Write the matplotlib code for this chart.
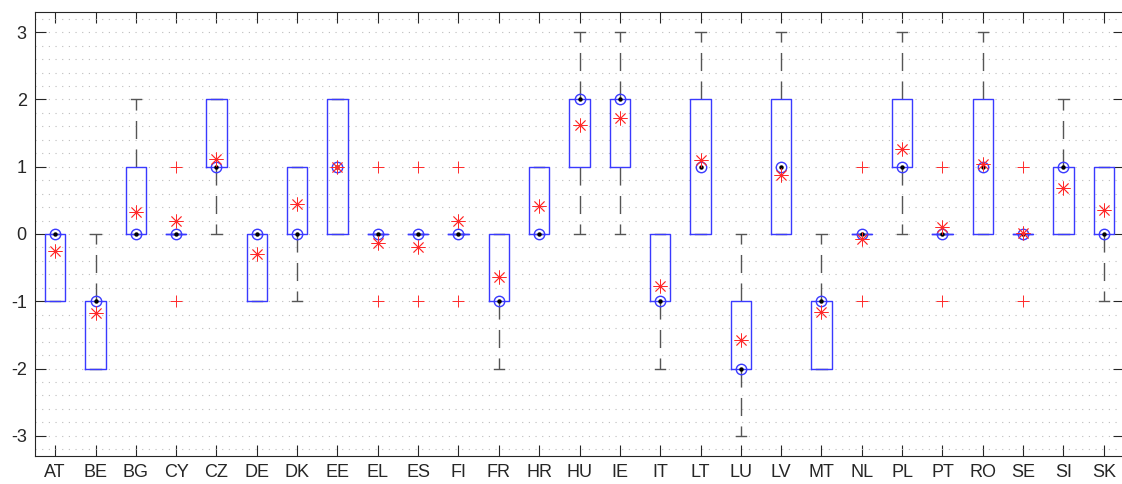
import numpy as np
import matplotlib
matplotlib.use("Agg")
import matplotlib.pyplot as plt

countries = ["AT", "BE", "BG", "CY", "CZ", "DE", "DK", "EE", "EL", "ES", "FI", "FR",
             "HR", "HU", "IE", "IT", "LT", "LU", "LV", "MT", "NL", "PL", "PT", "RO",
             "SE", "SI", "SK"]
q1 =      [-1, -2, 0, 0, 1, -1, 0, 0, 0, 0, 0, -1, 0, 1, 1, -1, 0, -2, 0, -2, 0, 1, 0, 0, 0, 0, 0]
q3 =      [0, -1, 1, 0, 2, 0, 1, 2, 0, 0, 0, 0, 1, 2, 2, 0, 2, -1, 2, -1, 0, 2, 0, 2, 0, 1, 1]
medians = [0, -1, 0, 0, 1, 0, 0, 1, 0, 0, 0, -1, 0, 2, 2, -1, 1, -2, 1, -1, 0, 1, 0, 1, 0, 1, 0]
whislo =  [-1, -2, 0, 0, 0, -1, -1, 0, 0, 0, 0, -2, 0, 0, 0, -2, 0, -3, 0, -2, 0, 0, 0, 0, 0, 0, -1]
whishi =  [0, 0, 2, 0, 2, 0, 1, 2, 0, 0, 0, 0, 1, 3, 3, 0, 3, 0, 3, 0, 0, 3, 0, 3, 0, 2, 1]
means =   [-0.25, -1.17, 0.32, 0.19, 1.11, -0.29, 0.45, 1.0, -0.13, -0.19, 0.19, -0.64,
           0.41, 1.62, 1.73, -0.78, 1.1, -1.58, 0.88, -1.16, -0.07, 1.26, 0.1, 1.04,
           0.01, 0.68, 0.36]
outliers = [[], [], [], [1, -1], [], [], [], [], [1, -1], [1, -1], [1, -1], [],
            [], [], [], [], [], [], [], [], [1, -1], [], [1, -1], [], [1, -1], [], []]

stats = []
for i, c in enumerate(countries):
    stats.append(dict(label=c, q1=q1[i], q3=q3[i], med=medians[i],
                      whislo=whislo[i], whishi=whishi[i], mean=means[i],
                      fliers=outliers[i]))

plt.rcParams['font.family'] = ['Liberation Sans', 'DejaVu Sans']
plt.rcParams['axes.unicode_minus'] = False
fig = plt.figure(figsize=(11.22, 4.84), dpi=100)
ax = fig.add_axes([35 / 1122, 28 / 484, (1124 - 35) / 1122, 444 / 484])

pos = np.arange(1, len(countries) + 1)
ax.bxp(stats, positions=pos, widths=0.5, capwidths=0.26, showmeans=True,
       showfliers=True, patch_artist=False,
       boxprops=dict(color='#3a3aff', linewidth=1.0, zorder=4),
       whiskerprops=dict(color='#555555', linewidth=1.0, linestyle=(0, (13, 7.5)), zorder=3),
       capprops=dict(color='#555555', linewidth=1.0, zorder=3),
       medianprops=dict(linewidth=0),
       meanprops=dict(marker=(8, 2, 0), markersize=10, markeredgecolor='#ff2a2a',
                      markerfacecolor='#ff2a2a', markeredgewidth=0.6, linestyle='none', zorder=6),
       flierprops=dict(marker='+', markersize=9, markeredgecolor='#ff2a2a',
                       markeredgewidth=0.7, linestyle='none', zorder=5))

ax.plot(pos, medians, linestyle='none', marker='o', markersize=7.5, markerfacecolor='none',
        markeredgecolor='#3a3aff', markeredgewidth=1.0, zorder=5)
ax.plot(pos, medians, linestyle='none', marker='o', markersize=3.2, markerfacecolor='black',
        markeredgecolor='black', markeredgewidth=0, zorder=5)

ax.set_xlim(0.5, len(countries) + 0.5)
ax.set_ylim(-3.3, 3.3)
ax.set_yticks([-3, -2, -1, 0, 1, 2, 3])
ax.set_yticks(np.round(np.arange(-3.2, 3.21, 0.2), 1), minor=True)
ax.set_xticks(pos)
ax.set_xticklabels(countries)
ax.grid(True, which='both', axis='y', linestyle=(0, (1, 5)), color='#bdbdbd', linewidth=0.8)
ax.set_axisbelow(True)
ax.tick_params(which='major', direction='in', length=8, width=0.8, color='#262626',
               top=True, right=True, labelsize=13, labelcolor='#262626', pad=6)
ax.tick_params(which='minor', length=0)
for s in ax.spines.values():
    s.set_color('#262626')
    s.set_linewidth(0.8)

fig.savefig('out.png', dpi=100)
